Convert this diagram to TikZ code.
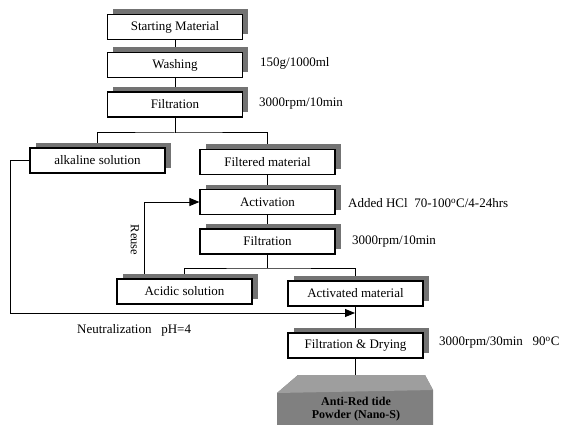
\documentclass[tikz,border=0pt]{standalone}
\usepackage{fontspec}
\setmainfont{Liberation Serif}
\usetikzlibrary{shadows,arrows.meta,backgrounds}
\begin{document}
\begin{tikzpicture}[x=1pt,y=-1pt,
  stepbox/.style={draw, line width=1.1pt, fill=white, minimum width=135pt, minimum height=25pt,
    inner sep=0pt, font=\fontsize{13}{15}\selectfont,
    general shadow={fill=black!55, shadow xshift=5.5pt, shadow yshift=5pt}},
  lbl/.style={anchor=west, inner sep=0pt, font=\fontsize{13}{15}\selectfont},
  conn/.style={line width=1pt},
  arr/.style={conn, -{Triangle[length=10pt,width=8pt]}}]
\useasboundingbox (0,0) rectangle (565,425);

% boxes
\node[stepbox] (sm)    at (175,27)    {Starting Material};
\node[stepbox] (wash)  at (175,65)    {Washing};
\node[stepbox] (filt1) at (175,104.5) {Filtration};
\node[stepbox] (alk)   at (97.5,160.5){alkaline solution};
\node[stepbox] (fm)    at (267.5,162) {Filtered material};
\node[stepbox] (act)   at (267.5,202) {Activation};
\node[stepbox] (filt2) at (267.5,241.5){Filtration};
\node[stepbox] (acid)  at (184.5,291.5){Acidic solution};
\node[stepbox] (am)    at (355.5,293.5){Activated material};
\node[stepbox] (fd)    at (355.5,345.5){Filtration \& Drying};

% product block
\fill[black!50] (277,425) -- (277,393) -- (298,375) -- (425,375) -- (433,390) -- (433,425) -- cycle;
\fill[black!38] (277,393) -- (298,375) -- (425,375) -- (433,390) -- cycle;
\node[align=center, inner sep=0pt, font=\bfseries\fontsize{12}{13}\selectfont] (prod) at (356,409)
  {Anti-Red tide\\Powder (Nano-S)};
\coordinate (prodtop) at (355.5,375);

% labels
\node[lbl] (l1) at (260,63)  {150g/1000ml};
\node[lbl] (l2) at (259,104) {3000rpm/10min};
\node[lbl] (l3) at (348,203) {Added HCl\ \ 70-100\textsuperscript{o}C/4-24hrs};
\node[lbl] (l4) at (352,242) {3000rpm/10min};
\node[lbl] (l5) at (439,343) {3000rpm/30min\ \ \ 90\textsuperscript{o}C};
\node[lbl] (l6) at (77,330)  {Neutralization\ \ \ pH=4};
\node[rotate=-90, inner sep=0pt, font=\fontsize{12.5}{14}\selectfont] (reuse) at (135,240) {Reuse};

\coordinate (s1) at (175,133);
\coordinate (s2) at (267.5,268);
\coordinate (nl) at (10,313);
\coordinate (nt) at (355,313);

\begin{pgfonlayer}{background}
\draw[conn] (sm.south) -- (wash.north);
\draw[conn] (wash.south) -- (filt1.north);
\draw[conn] (filt1.south) -- (s1);
\draw[conn] (alk.north) |- (s1) -| (fm.north);
\draw[conn] (fm.south) -- (act.north);
\draw[conn] (act.south) -- (filt2.north);
\draw[conn] (filt2.south) -- (s2);
\draw[conn] (acid.north) |- (s2) -| (am.north);
\draw[conn] (am.south) -- (fd.north);
\draw[conn] (fd.south) -- (prodtop);
\draw[arr] ([xshift=-40pt]acid.north) |- (act.west);
\draw[arr] (alk.west) -| (nl) -- (nt);
\end{pgfonlayer}
\end{tikzpicture}
\end{document}
